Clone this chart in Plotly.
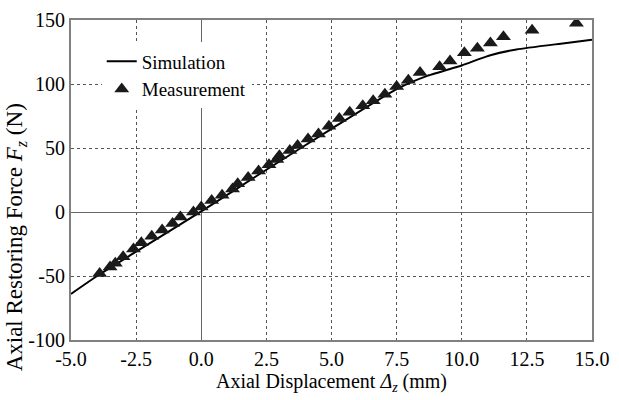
import plotly.graph_objects as go

sim_x = [-5.0, -4.0, -2.5, 0.0, 2.5, 5.0, 7.5, 8.7, 10.0, 10.6, 11.1, 12.1, 13.8, 15.0]
sim_y = [-64, -50, -31, 0.5, 33, 65, 96, 106.5, 114.5, 119, 122.5, 127, 131.5, 134.5]

meas_x = [-3.9, -3.5, -3.3, -3.0, -2.6, -2.3, -1.9, -1.5, -1.1, -0.8, -0.3, 0.0, 0.4, 0.8,
          1.2, 1.4, 1.8, 2.2, 2.6, 2.9, 3.0, 3.4, 3.7, 4.1, 4.5, 4.9, 5.3, 5.7, 6.2, 6.6,
          7.05, 7.5, 7.95, 8.4, 9.15, 9.55, 10.1, 10.6, 11.1, 11.6, 12.7, 14.4]
meas_y = [-48, -43, -40, -35, -29, -24, -19, -14, -9, -4, 0, 4, 9, 13,
          18, 22, 27, 32, 37, 41, 44, 48, 52, 57, 61, 67, 73, 78, 83, 87,
          92, 98, 103, 109, 113.5, 118, 124.5, 128, 132, 137, 142, 147.5]

x_ticks = [-5.0, -2.5, 0.0, 2.5, 5.0, 7.5, 10.0, 12.5, 15.0]
y_ticks = [-100, -50, 0, 50, 100, 150]

x_title = "Axial Displacement <i>Δ</i><sub><i>z</i></sub> (mm)"
y_title = "Axial Restoring Force <i>F</i><sub><i>z</i></sub> (N)"

font = "Liberation Serif"

fig = go.Figure()
fig.add_trace(go.Scatter(x=sim_x, y=sim_y, mode="lines", name="Simulation",
                         line=dict(color="black", width=2, shape="spline", smoothing=0.5)))
fig.add_trace(go.Scatter(x=meas_x, y=meas_y, mode="markers", name="Measurement",
                         marker=dict(symbol="triangle-up", size=13, color="#1a1a1a")))

axis_common = dict(
    showline=True, linecolor="#808080", linewidth=2, mirror=True,
    showgrid=True, gridcolor="#555555", griddash="dot", gridwidth=1,
    zeroline=True, zerolinecolor="#666666", zerolinewidth=1,
    ticks="", tickfont=dict(family=font, size=20, color="black"),
)

fig.update_xaxes(range=[-5, 15], tickvals=x_ticks,
                 ticktext=[f"{v:.1f}" for v in x_ticks],
                 title=dict(text=x_title,
                            font=dict(family=font, size=20, color="black"), standoff=4),
                 **axis_common)
fig.update_yaxes(range=[-100, 150], tickvals=y_ticks,
                 ticktext=[str(v) for v in y_ticks],
                 **axis_common)

fig.add_annotation(text=y_title, textangle=-90, xref="paper", yref="paper",
                   x=-0.106, y=0.32, xanchor="center", yanchor="middle",
                   showarrow=False, font=dict(family=font, size=23, color="black"))

fig.update_layout(
    width=619, height=400,
    margin=dict(l=71, r=20, t=9, b=60),
    plot_bgcolor="white", paper_bgcolor="white",
    font=dict(family=font, color="black"),
    legend=dict(x=0.059, y=0.93, xanchor="left", yanchor="top",
                bgcolor="white", borderwidth=0,
                font=dict(family=font, size=19, color="black"),
                tracegroupgap=0, itemwidth=30),
    showlegend=True,
)

fig.write_html("out.html")
